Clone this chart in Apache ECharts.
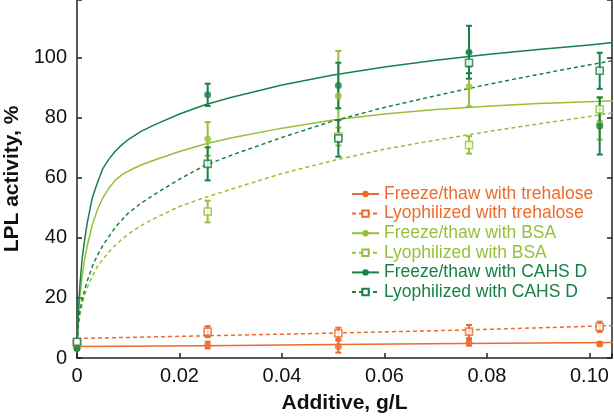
<!DOCTYPE html>
<html><head><meta charset="utf-8">
<script src="https://cdn.jsdelivr.net/npm/echarts@6/dist/echarts.min.js"></script>
<style>html,body{margin:0;padding:0;background:#fff}#c{width:614px;height:417px}</style>
</head><body><div id="c"></div>
<script>
// ---- data points (x positions shared) ----
const xPoints = [0, 0.0255, 0.051, 0.0765, 0.102];

const trehFreezeY   = [3.5, 4.3, 3.8, 5.1, 4.7];
const trehFreezeErr = [0.5, 1.1, 2.0, 1.0, 0.6];
const trehLyoY      = [5.0, 8.8, 8.2, 8.8, 10.4];
const trehLyoErr    = [0.5, 1.8, 1.9, 2.2, 1.7];

const bsaFreezeY    = [3.5, 73.0, 87.3, 90.4, 77.8];
const bsaFreezeErr  = [0.5, 5.6, 15.0, 6.6, 5.0];
const bsaLyoY       = [5.0, 48.8, 73.8, 71.0, 82.9];
const bsaLyoErr     = [0.5, 3.6, 3.0, 2.9, 4.0];

const cahsFreezeY   = [3.2, 87.7, 90.8, 101.9, 77.3];
const cahsFreezeErr = [0.5, 3.7, 7.6, 8.8, 9.5];
const cahsLyoY      = [5.4, 64.7, 73.2, 98.4, 95.7];
const cahsLyoErr    = [0.5, 5.5, 6.1, 3.5, 6.0];

// ---- fitted curves ----
const curveX = [0, 0.0003, 0.0006, 0.001, 0.0015, 0.002, 0.003, 0.004, 0.005, 0.0062, 0.0075, 0.0088, 0.01, 0.0125, 0.015, 0.02, 0.025, 0.03, 0.04, 0.05, 0.06, 0.07, 0.08, 0.09, 0.1, 0.1046];
const cahsFreezeCurve = [3, 17, 25, 33, 39.5, 45, 53.5, 58.5, 63, 66.2, 69, 71.1, 72.8, 75.5, 77.6, 81.3, 84.4, 86.8, 91, 94.3, 97, 99.2, 101.1, 102.8, 104.3, 105.1];
const bsaFreezeCurve  = [3, 14, 21, 27.3, 33, 37.4, 44.5, 49.5, 53.2, 56.6, 59.3, 61.1, 62.3, 64.3, 65.9, 68.8, 71.3, 73.3, 76.6, 79.3, 81.3, 82.8, 83.9, 84.8, 85.4, 85.7];
const cahsLyoCurve    = [5, 12, 16, 19.5, 22.8, 25.7, 30.6, 34.3, 37.4, 40.4, 43.6, 46.1, 48.3, 51.6, 54.4, 59.6, 64.2, 67.5, 73.5, 79, 83.5, 87.4, 91.1, 94.5, 97.7, 99.1];
const bsaLyoCurve     = [5, 11, 14.8, 18.1, 21, 23.4, 27.4, 30.5, 32.8, 35.3, 37.6, 39.6, 41.3, 44.1, 46.4, 50.5, 53.5, 56.2, 61.5, 65.8, 69.6, 72.6, 75.4, 78, 80.5, 81.7];

const trehCurveX = [0, 0.025, 0.05, 0.075, 0.1046];
const trehFreezeCurve = [3.8, 4.1, 4.5, 4.8, 5.2];
const trehLyoCurve    = [6.5, 7.4, 8.3, 9.3, 10.8];

const names = [
  'Freeze/thaw with trehalose', 'Lyophilized with trehalose',
  'Freeze/thaw with BSA', 'Lyophilized with BSA',
  'Freeze/thaw with CAHS D', 'Lyophilized with CAHS D'
];

const ORANGE = '#EC6B2D', LIGHT = '#97C03A', DARK = '#198048';
const FONT = 'Liberation Sans, Arial, Helvetica, sans-serif';

function pair(xs, ys) { return xs.map((x, i) => [x, ys[i]]); }

function curve(name, xs, ys, color, dashed, square) {
  return {
    type: 'line', name, data: pair(xs, ys), smooth: false,
    showSymbol: false, symbol: square ? 'emptyRect' : 'circle',
    lineStyle: { color, width: 1.5, type: dashed ? [4, 3] : 'solid', join: 'round' },
    itemStyle: { color }, z: 2, silent: true
  };
}
function points(name, ys, color, square) {
  return {
    type: 'scatter', name: name + ' (pts)', data: pair(xPoints, ys),
    symbol: square ? 'rect' : 'circle', symbolSize: 7,
    itemStyle: square ? { color: '#fff', borderColor: color, borderWidth: 1.6 } : { color },
    z: 4, clip: false, silent: true
  };
}
function errbars(name, ys, errs, color) {
  return {
    type: 'custom', name: name + ' (err)', clip: false, silent: true, z: 3,
    data: xPoints.map((x, i) => [x, ys[i] - errs[i], ys[i] + errs[i]]),
    encode: { x: 0, y: [1, 2] },
    renderItem: function (params, api) {
      const lo = api.coord([api.value(0), api.value(1)]);
      const hi = api.coord([api.value(0), api.value(2)]);
      const w = 3;
      const st = { stroke: color, lineWidth: 2 };
      return { type: 'group', children: [
        { type: 'line', shape: { x1: lo[0], y1: lo[1], x2: hi[0], y2: hi[1] }, style: st },
        { type: 'line', shape: { x1: lo[0] - w, y1: lo[1], x2: lo[0] + w, y2: lo[1] }, style: st },
        { type: 'line', shape: { x1: hi[0] - w, y1: hi[1], x2: hi[0] + w, y2: hi[1] }, style: st }
      ]};
    }
  };
}

const series = [
  curve(names[0], trehCurveX, trehFreezeCurve, ORANGE, false, false),
  curve(names[1], trehCurveX, trehLyoCurve, ORANGE, true, true),
  curve(names[2], curveX, bsaFreezeCurve, LIGHT, false, false),
  curve(names[3], curveX, bsaLyoCurve, LIGHT, true, true),
  curve(names[4], curveX, cahsFreezeCurve, DARK, false, false),
  curve(names[5], curveX, cahsLyoCurve, DARK, true, true),
  errbars(names[0], trehFreezeY, trehFreezeErr, ORANGE),
  errbars(names[1], trehLyoY, trehLyoErr, ORANGE),
  errbars(names[2], bsaFreezeY, bsaFreezeErr, LIGHT),
  errbars(names[3], bsaLyoY, bsaLyoErr, LIGHT),
  errbars(names[4], cahsFreezeY, cahsFreezeErr, DARK),
  errbars(names[5], cahsLyoY, cahsLyoErr, DARK),
  points(names[0], trehFreezeY, ORANGE, false),
  points(names[1], trehLyoY, ORANGE, true),
  points(names[2], bsaFreezeY, LIGHT, false),
  points(names[3], bsaLyoY, LIGHT, true),
  points(names[4], cahsFreezeY, DARK, false),
  points(names[5], cahsLyoY, DARK, true)
];

const colors = [ORANGE, ORANGE, LIGHT, LIGHT, DARK, DARK];

const chart = echarts.init(document.getElementById('c'), null, { renderer: 'canvas' });
chart.setOption({
  animation: false,
  textStyle: { fontFamily: FONT },
  grid: { left: 77, right: 2, top: 0, bottom: 59, containLabel: false, outerBoundsMode: 'none' },
  legend: {
    left: 346, top: 180, orient: 'vertical', itemWidth: 27, itemHeight: 8, itemGap: 1.6,
    selectedMode: false,
    data: names.map((n, i) => ({ name: n, textStyle: { color: colors[i] } })),
    textStyle: { fontSize: 17.5, fontFamily: FONT }
  },
  xAxis: {
    type: 'value', min: 0, max: 0.1044, interval: 0.02,
    name: 'Additive, g/L', nameLocation: 'middle', nameGap: 35,
    nameTextStyle: { fontSize: 21, fontWeight: 'bold', color: '#111', fontFamily: FONT },
    axisLine: { lineStyle: { color: '#222', width: 1.5 } },
    axisTick: { inside: true, length: 5, lineStyle: { color: '#222', width: 1.5 } },
    axisLabel: { fontSize: 20, color: '#111', margin: 8, fontFamily: FONT,
      formatter: v => { if (Math.abs(v / 0.02 - Math.round(v / 0.02)) > 1e-6) return ''; return v === 0 ? '0' : v.toFixed(2); } },
    splitLine: { show: false }
  },
  yAxis: [{
    type: 'value', min: 0, max: 119.3, interval: 20,
    name: 'LPL activity, %', nameLocation: 'middle', nameGap: 50,
    nameTextStyle: { fontSize: 21, fontWeight: 'bold', color: '#111', fontFamily: FONT },
    axisLine: { show: true, lineStyle: { color: '#222', width: 1.5 } },
    axisTick: { show: true, inside: true, length: 5, lineStyle: { color: '#222', width: 1.5 } },
    axisLabel: { fontSize: 20, color: '#111', margin: 10, fontFamily: FONT,
      formatter: v => (Math.abs(v % 20) < 1e-6 ? String(v) : '') },
    splitLine: { show: false }
  }, {
    type: 'value', position: 'right', min: 0, max: 119.3, interval: 20,
    axisLine: { show: true, lineStyle: { color: '#222', width: 1.5 } },
    axisTick: { show: true, inside: true, length: 5, lineStyle: { color: '#222', width: 1.5 } },
    axisLabel: { show: false }, splitLine: { show: false }
  }],
  series
});
</script>
</body></html>
